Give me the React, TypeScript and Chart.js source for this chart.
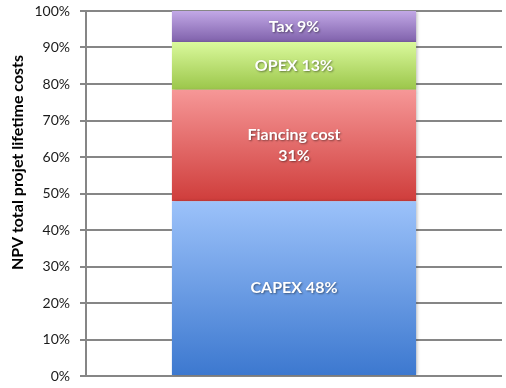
import React, { useEffect, useRef } from "react";
import { Chart, registerables } from "chart.js";

Chart.register(...registerables);

const categories = ["Project"];
const segmentNames = ["CAPEX", "Fiancing cost", "OPEX", "Tax"];
const segmentValues = [47.9, 30.5, 13.1, 8.5];
const segmentLabels = [["CAPEX 48%"], ["Fiancing cost", "31%"], ["OPEX 13%"], ["Tax 9%"]];
const yAxisTitle = "NPV total projet lifetime costs";

const topColors = ["#9cc2fa", "#f69797", "#daf99c", "#c2a8e6"];
const bottomColors = ["#3c78cf", "#cf3d3b", "#9bc64a", "#7f61ab"];

const FONT = "Lato, 'Open Sans', sans-serif";

const labelPlugin = {
  id: "segLabels",
  beforeDatasetsDraw(chart: any) {
    const ctx = chart.ctx;
    ctx.save();
    ctx.shadowColor = "rgba(0,0,0,0.22)";
    ctx.shadowBlur = 3;
    ctx.shadowOffsetX = 2;
  },
  afterDatasetsDraw(chart: any) {
    const ctx = chart.ctx;
    ctx.restore();
    ctx.save();
    ctx.font = `bold 16px ${FONT}`;
    ctx.fillStyle = "#ffffff";
    ctx.textAlign = "center";
    ctx.textBaseline = "middle";
    ctx.shadowColor = "rgba(0,0,0,0.45)";
    ctx.shadowBlur = 2;
    ctx.shadowOffsetX = 1;
    ctx.shadowOffsetY = 1;
    chart.data.datasets.forEach((ds: any, i: number) => {
      const meta = chart.getDatasetMeta(i);
      const el = meta.data[0];
      if (!el) return;
      const lines = segmentLabels[i];
      const lh = 21;
      const cy = (el.y + el.base) / 2;
      lines.forEach((t, j) => {
        ctx.fillText(t, el.x, cy + (j - (lines.length - 1) / 2) * lh);
      });
    });
    ctx.restore();
    // axis title
    ctx.save();
    ctx.translate(17.5, 162.5);
    ctx.rotate(-Math.PI / 2);
    ctx.font = `bold 16px ${FONT}`;
    ctx.fillStyle = "#000000";
    ctx.textAlign = "center";
    ctx.textBaseline = "middle";
    ctx.fillText(yAxisTitle, 0, 0);
    ctx.restore();
  },
};

export default function App() {
  const ref = useRef<HTMLCanvasElement>(null);
  useEffect(() => {
    if (!ref.current) return;
    const chart = new Chart(ref.current, {
      type: "bar",
      data: {
        labels: categories,
        datasets: segmentNames.map((name, i) => ({
          label: name,
          data: [segmentValues[i]],
          stack: "s",
          barPercentage: 0.587,
          categoryPercentage: 1,
          borderWidth: 0,
          backgroundColor: (c: any) => {
            const ch = c.chart;
            const y = ch.scales && ch.scales.y;
            if (!ch.chartArea || !y) return topColors[i];
            let start = 0;
            for (let k = 0; k < i; k++) start += segmentValues[k];
            const yTop = y.getPixelForValue(start + segmentValues[i]);
            const yBot = y.getPixelForValue(start);
            const g = ch.ctx.createLinearGradient(0, yTop, 0, yBot);
            g.addColorStop(0, topColors[i]);
            g.addColorStop(1, bottomColors[i]);
            return g;
          },
        })),
      },
      options: {
        responsive: false,
        animation: false,
        layout: { padding: { left: 0, right: 4, top: 11, bottom: 12 } },
        plugins: { legend: { display: false }, tooltip: { enabled: false } },
        scales: {
          x: { stacked: true, display: false },
          y: {
            stacked: true,
            min: 0,
            max: 100,
            afterFit: (s: any) => {
              s.width = 86;
              s.paddingTop = 0;
              s.paddingBottom = 0;
            },
            ticks: {
              stepSize: 10,
              padding: 10,
              color: "#1a1a1a",
              font: { family: FONT, size: 14 },
              callback: (v: any) => v + "%",
            },
            grid: { color: "#868686", lineWidth: 2, tickLength: 6 },
            border: { display: true, color: "#868686", width: 2 },
            title: { display: false },
          },
        },
      },
      plugins: [labelPlugin],
    });
    return () => chart.destroy();
  }, []);
  return (
    <div style={{ position: "absolute", left: 0, top: 0, width: 506, height: 388, background: "#fff" }}>
      <canvas ref={ref} width={506} height={388} />
    </div>
  );
}
